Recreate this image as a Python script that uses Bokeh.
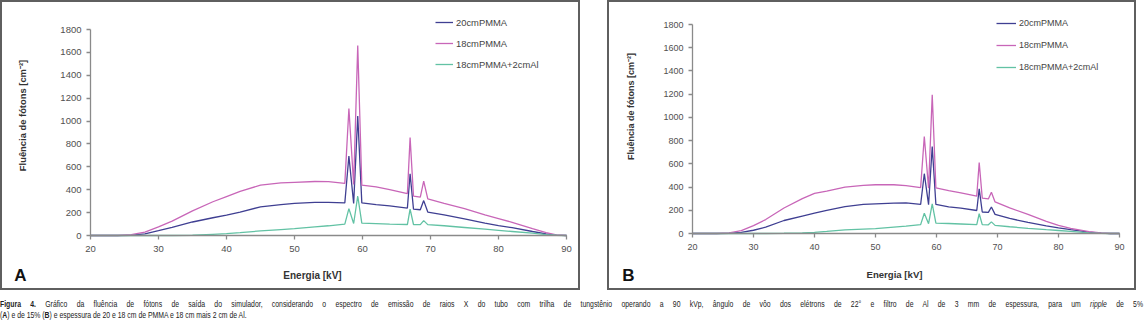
from math import pi
from bokeh.plotting import figure
from bokeh.models import Range1d, LinearAxis, FixedTicker, Label, Legend, LegendItem, Spacer, Div
from bokeh.layouts import row, column
from bokeh.embed import file_html
from bokeh.resources import INLINE

# ---------------- data ----------------
energy_kv = [20, 24, 26, 28, 30, 32, 35, 38, 40, 42, 45, 48, 50, 53, 55, 57.4, 58.0, 58.7, 59.3, 59.9,
             62, 64, 66.6, 67.0, 67.5, 68.5, 69.0, 69.6, 72, 75, 78, 80, 82, 85, 87, 88.5, 90]

series_names = ["20cmPMMA", "18cmPMMA", "18cmPMMA+2cmAl"]

# panel A (ripple 5%)
a_20cm_pmma = [0, 0, 2, 15, 42, 70, 118, 155, 178, 205, 250, 270, 280, 290, 290, 285, 695, 280, 1045, 285,
               270, 258, 240, 540, 230, 225, 305, 205, 180, 145, 108, 87, 68, 35, 15, 3, 0]
a_18cm_pmma = [0, 0, 8, 30, 75, 125, 215, 295, 340, 385, 440, 460, 465, 472, 470, 455, 1110, 445, 1660, 440,
               425, 400, 365, 855, 345, 335, 475, 320, 280, 235, 180, 148, 115, 60, 25, 5, 0]
a_18cm_pmma_2cm_al = [0, 0, 0, 0, 0, 0, 2, 10, 16, 25, 40, 52, 60, 75, 85, 100, 235, 105, 345, 108,
                      104, 100, 96, 230, 96, 95, 130, 95, 85, 70, 55, 45, 35, 20, 8, 2, 0]

# panel B (ripple 15%)
b_20cm_pmma = [0, 0, 2, 10, 28, 55, 112, 150, 175, 200, 232, 250, 256, 262, 263, 250, 515, 248, 750, 250,
               230, 218, 198, 385, 185, 182, 228, 165, 130, 95, 65, 48, 33, 12, 3, 0, 0]
b_18cm_pmma = [0, 0, 5, 25, 68, 120, 220, 300, 345, 365, 400, 415, 420, 420, 413, 395, 835, 390, 1195, 392,
               370, 350, 322, 612, 305, 298, 355, 272, 220, 165, 105, 70, 45, 17, 5, 0, 0]
b_18cm_pmma_2cm_al = [0, 0, 0, 0, 0, 0, 2, 6, 10, 18, 32, 38, 42, 55, 63, 76, 175, 85, 256, 89,
                      86, 82, 77, 170, 77, 75, 100, 70, 58, 45, 33, 26, 18, 5, 1, 0, 0]

x_ticks = [20, 30, 40, 50, 60, 70, 80, 90]
y_ticks = [0, 200, 400, 600, 800, 1000, 1200, 1400, 1600, 1800]

x_title = "Energia [kV]"
y_title = "Fluência de fótons [cm\u207b\u00b2]"
panel_letters = ["A", "B"]

caption_label = "Figura 4."
caption_l1 = (" Gráfico da fluência de fótons de saída do simulador, considerando o espectro de emissão de raios X "
              "do tubo com trilha de tungstênio operando a 90 kVp, ângulo de vôo dos elétrons de 22° e filtro de Al "
              "de 3 mm de espessura, para um ")
caption_ripple = "ripple"
caption_l1_end = " de 5%"
caption_l2 = ["(", "A", ") e de 15% (", "B", ") e espessura de 20 e 18 cm de PMMA e 18 cm mais 2 cm de Al."]

colors = ["#3f3f92", "#c866b8", "#62c2a4"]
FONT = "Liberation Sans"


def build_panel(series, cfg):
    w, h = cfg["w"], cfg["h"]
    x0, x1 = x_ticks[0], x_ticks[-1]
    y0, y1 = y_ticks[0], y_ticks[-1]
    # plot-area pixel box inside the panel canvas -> ranges covering the whole canvas
    sx = (cfg["fr"] - cfg["fl"]) / (x1 - x0)
    sy = (cfg["fb"] - cfg["ft"]) / (y1 - y0)
    xr = Range1d(x0 - cfg["fl"] / sx, x1 + (w - cfg["fr"]) / sx)
    yr = Range1d(y0 - (h - cfg["fb"]) / sy, y1 + cfg["ft"] / sy)

    p = figure(width=w, height=h, x_range=xr, y_range=yr,
               x_axis_type=None, y_axis_type=None,
               output_backend="svg", toolbar_location=None,
               min_border_left=0, min_border_right=0, min_border_top=0, min_border_bottom=0,
               styles={"border": "2px solid #5f5f5f"})
    p.outline_line_color = None
    p.background_fill_color = "white"
    p.border_fill_color = "white"

    common = dict(axis_line_color="#8a8a8a", axis_line_width=1.3,
                  major_tick_line_color="#8a8a8a", major_tick_line_width=1.3,
                  major_tick_in=0, major_tick_out=4,
                  minor_tick_line_color=None,
                  major_label_text_font=FONT, major_label_text_font_size=cfg["tick_fs"],
                  major_label_text_color="#505050")
    yax = LinearAxis(ticker=FixedTicker(ticks=y_ticks), fixed_location=x0, bounds=(y0, y1),
                     major_label_standoff=5, **common)
    xax = LinearAxis(ticker=FixedTicker(ticks=x_ticks), fixed_location=y0, bounds=(x0, x1),
                     major_label_standoff=6, **common)
    p.add_layout(yax, "left")
    p.add_layout(xax, "below")

    rends = []
    for vals, c in zip(series, colors):
        rends.append(p.line(energy_kv, vals, line_color=c, line_width=1.3))

    legend = Legend(items=[LegendItem(label=n, renderers=[r]) for n, r in zip(series_names, rends)],
                    location=cfg["leg_loc"], orientation="vertical",
                    border_line_color=None, background_fill_alpha=0,
                    padding=0, margin=0, spacing=cfg["leg_sp"],
                    glyph_width=cfg["leg_gw"], glyph_height=12, label_height=12, label_standoff=3,
                    label_text_font=FONT, label_text_font_size=cfg["leg_fs"],
                    label_text_color="#444444")
    p.add_layout(legend)

    p.add_layout(Label(x=cfg["letter"][0], y=cfg["letter"][1], x_units="screen", y_units="screen",
                       text=cfg["letter_text"], text_font=FONT, text_font_style="bold",
                       text_font_size="17px", text_color="#111111",
                       text_align="center", text_baseline="middle"))
    p.add_layout(Label(x=cfg["xt"][0], y=cfg["xt"][1], x_units="screen", y_units="screen",
                       text=x_title, text_font=FONT, text_font_style="bold",
                       text_font_size=cfg["title_fs"], text_color="#333333",
                       text_align="center", text_baseline="middle"))
    p.add_layout(Label(x=cfg["yt"][0], y=cfg["yt"][1], x_units="screen", y_units="screen",
                       text=y_title, angle=pi / 2, text_font=FONT, text_font_style="bold",
                       text_font_size=cfg["ytitle_fs"], text_color="#333333",
                       text_align="center", text_baseline="middle"))
    return p


# pixel layout of each panel canvas (canvas sits inside a 2px CSS border)
cfg_a = dict(w=580, h=290, fl=88, fr=564, ft=27, fb=233,
             tick_fs="9.5px", leg_fs="9.4px", title_fs="10px", ytitle_fs="9.4px", leg_sp=9, leg_gw=18,
             leg_loc=(433, 222), letter_text=panel_letters[0],
             letter=(18, 17), xt=(310, 17), yt=(20, 177))
cfg_b = dict(w=529, h=290, fl=83, fr=510, ft=22, fb=231,
             tick_fs="9px", leg_fs="9px", title_fs="9.6px", ytitle_fs="9px", leg_sp=10, leg_gw=20,
             leg_loc=(387, 219), letter_text=panel_letters[1],
             letter=(19, 17.5), xt=(285, 18), yt=(21, 186))

pa = build_panel([a_20cm_pmma, a_18cm_pmma, a_18cm_pmma_2cm_al], cfg_a)
pb = build_panel([b_20cm_pmma, b_18cm_pmma, b_18cm_pmma_2cm_al], cfg_b)

line1 = f"<b>{caption_label}</b>{caption_l1}<i>{caption_ripple}</i>{caption_l1_end}"
line2 = f"{caption_l2[0]}<b>{caption_l2[1]}</b>{caption_l2[2]}<b>{caption_l2[3]}</b>{caption_l2[4]}"
scale = 0.70
caption_html = (
    "<div style='font-family:\"Liberation Sans\",sans-serif;font-size:9.8px;"
    f"color:#222;line-height:11px;width:{1143 / scale:.1f}px;padding-top:4px;"
    f"transform:scaleX({scale});transform-origin:0 0'>"
    f"<div style='text-align:justify;text-align-last:justify;white-space:nowrap'>{line1}</div>"
    f"<div>{line2}</div></div>"
)
caption = Div(text=caption_html, width=1145, height=34, margin=0)

layout = column(row(pa, Spacer(width=27, height=294), pb), caption)
open("out.html", "w").write(file_html(layout, INLINE))
